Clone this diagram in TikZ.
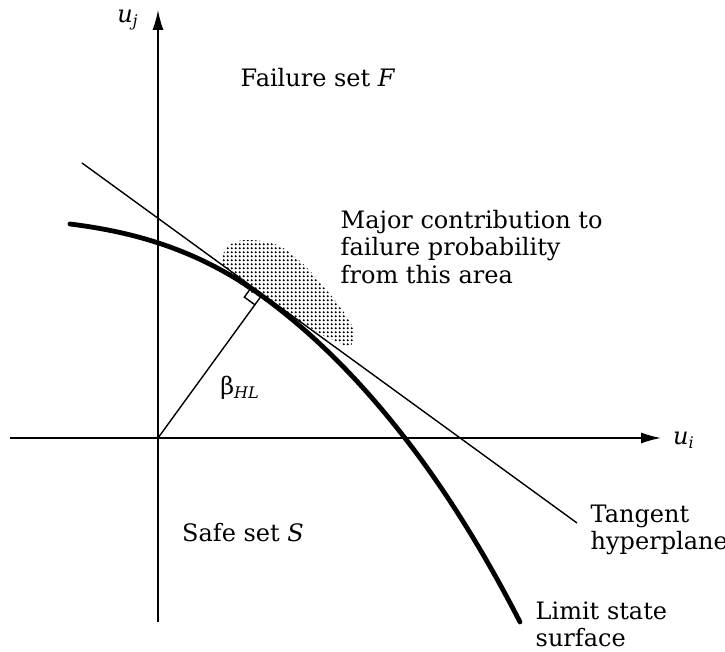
\documentclass[tikz,border=0pt]{standalone}
\usepackage{fontspec}
\setmainfont{DejaVu Serif}
\usetikzlibrary{arrows.meta,calc,patterns.meta}
\tikzdeclarepattern{
  name=stipple,
  type=uncolored,
  bounding box={(0pt,0pt) and (2.1pt,2.1pt)},
  tile size={(2.1pt,2.1pt)},
  code={\fill (1.05pt,1.05pt) circle (0.65pt);}
}

\begin{document}
\begin{tikzpicture}[x=0.5pt,y=-0.5pt,>={Latex[length=10pt,width=5.5pt]},line width=0.7pt,
  font=\fontsize{12}{13.6}\selectfont,
  lbl/.style={inner sep=0pt},
  limitline/.style={line width=2.4pt,line cap=round}]
\useasboundingbox (0,0) rectangle (725,652);
% axes and tangent
\coordinate (origin) at (158,438);
\coordinate (xstart) at (10,438);
\coordinate (xend) at (661,438);
\coordinate (ystart) at (158,622);
\coordinate (yend) at (158,10);
\coordinate (tanA) at (82,163);
\coordinate (tanB) at (577,523);
\coordinate (foot) at ($(tanA)!(origin)!(tanB)$);
\coordinate (sqA) at ($(foot)!6.5pt!(tanA)$);
\coordinate (sqB) at ($(foot)!6.5pt!(origin)$);
% area of major contribution
\fill[pattern=stipple] plot[smooth,tension=0.6] coordinates {(222,264) (224,252) (233,243) (250,240) (277,245) (300,261) (323,286) (343,311) (354,332) (350,348)}
  -- plot[smooth,tension=0.6] coordinates {(320,334) (290,315) (262,299) (240,284) (222,264)} -- cycle;
\draw[->] (xstart) -- (xend);
\draw[->] (ystart) -- (yend);
\draw (tanA) -- (tanB);
\draw (origin) -- (foot);
\draw (sqA) -- ($(sqA)+(sqB)-(foot)$) -- (sqB);
% limit state surface
\draw[limitline] (70,224) .. controls (134,232) and (198,249.5) .. (262,296)
  .. controls (311,331.6) and (359,378.3) .. (408,442)
  .. controls (445,490) and (483,550) .. (520,622);
% labels
\node[lbl] (uj) at (128,20) {\textit{u}\textsubscript{\textit{j}}};
\node[lbl] (ui) at (684,440) {\textit{u}\textsubscript{\textit{i}}};
\node[lbl] (failure) at (318,78) {Failure set \textit{F}};
\node[lbl] (safe) at (243,533) {Safe set \textit{S}};
\node[lbl] (beta) at (240,388) {\large β\textsubscript{\textit{HL}}};
\node[lbl,anchor=west,align=left] (major) at (340,247) {Major contribution to\\failure probability\\from this area};
\node[lbl,anchor=west,align=left] (tangent) at (590,530) {Tangent\\hyperplane};
\node[lbl,anchor=west,align=left] (limit) at (535,624) {Limit state\\surface};
\end{tikzpicture}
\end{document}
